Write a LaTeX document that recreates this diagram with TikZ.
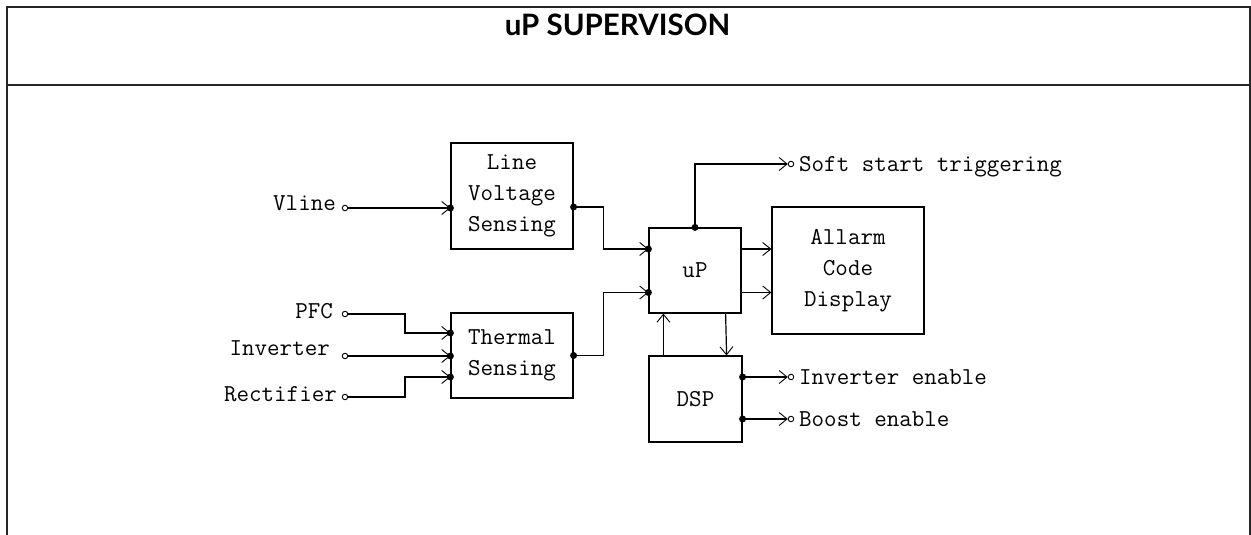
\documentclass[tikz,border=0pt]{standalone}
\usepackage{fontspec}
\newfontfamily\headfont{Lato}
\usetikzlibrary{arrows.meta,calc}

\begin{document}
\begin{tikzpicture}[
  x=1pt, y=-1pt,
  frame/.style={line width=2pt, draw=black!85},
  box/.style={draw, line width=1.2pt, align=center, inner sep=0pt, font=\ttfamily\fontsize{24.3}{31}\selectfont},
  term/.style={draw, circle, line width=0.9pt, inner sep=0pt, minimum size=5.5pt},
  inlabel/.style={anchor=base east, inner sep=0pt, font=\ttfamily\fontsize{24.3}{31}\selectfont},
  outlabel/.style={anchor=base west, inner sep=0pt, font=\ttfamily\fontsize{24.3}{31}\selectfont},
  arrow/.style={-{Straight Barb[length=8pt,width=13pt,line width=0.9pt]}, line width=1.2pt}
]
\useasboundingbox (0,0) rectangle (1251,535);
\draw[frame] (7,535) -- (7,7) -- (1250,7) -- (1250,535);
\draw[frame] (7,85) -- (1250,85);
\node[anchor=base, inner sep=0pt, font=\headfont\bfseries\fontsize{29.5}{32}\selectfont] (title) at (617.5,35.7) {uP SUPERVISON};

\node[box, minimum width=122pt, minimum height=106pt] (lvs) at (512,196) {Line\\Voltage\\Sensing};
\node[box, minimum width=122pt, minimum height=85pt] (ths) at (512,355.5) {Thermal\\Sensing};
\node[box, minimum width=92pt, minimum height=85pt] (up) at (695,270.5) {uP};
\node[box, minimum width=152pt, minimum height=127pt] (alm) at (848,270.5) {Allarm\\Code\\Display};
\node[box, minimum width=93pt, minimum height=86pt] (dsp) at (695.5,399) {DSP};

\node[term] (vline) at (345,208) {};
\node[term] (pfc) at (345,314) {};
\node[term] (inv) at (345,356) {};
\node[term] (rect) at (345,397) {};
\node[term] (soft) at (791,164) {};
\node[term] (inven) at (791,377) {};
\node[term] (boost) at (791,419) {};

\node[inlabel] (vline-txt) at ($(vline)+(-9,2)$) {Vline};
\node[inlabel] (pfc-txt) at ($(pfc)+(-12,4)$) {PFC};
\node[inlabel] (inv-txt) at ($(inv)+(-15,-1)$) {Inverter};
\node[inlabel] (rect-txt) at ($(rect)+(-8,4)$) {Rectifier};
\node[outlabel] (soft-txt) at ($(soft)+(8,7.5)$) {Soft start triggering};
\node[outlabel] (inven-txt) at ($(inven)+(8,7.5)$) {Inverter enable};
\node[outlabel] (boost-txt) at ($(boost)+(8,7.5)$) {Boost enable};

\coordinate (lvs-in) at (vline -| lvs.west);
\coordinate (lvs-out) at ($(lvs.east)+(0,11)$);
\coordinate (ths-a) at ($(ths.west)+(0,-22.5)$);
\coordinate (ths-b) at (inv -| ths.west);
\coordinate (ths-c) at ($(ths.west)+(0,21.5)$);
\coordinate (ths-out) at (ths.east);
\coordinate (up-a) at ($(up.west)+(0,-21.5)$);
\coordinate (up-b) at ($(up.west)+(0,22)$);
\coordinate (up-top) at (up.north);
\coordinate (dsp-a) at (inven -| dsp.east);
\coordinate (dsp-b) at (boost -| dsp.east);

\draw[arrow] (vline) -- (lvs-in);
\draw[arrow] (lvs-out) -- ++(30,0) |- (up-a);
\draw[arrow] (pfc) -- ++(60,0) |- (ths-a);
\draw[arrow] (inv) -- (ths-b);
\draw[arrow] (rect) -- ++(60,0) |- (ths-c);
\draw[arrow] (ths-out) -- ++(30,0) |- (up-b);
\draw[arrow] (up-top) |- (soft);
\draw[arrow] (up-a -| up.east) -- (up-a -| alm.west);
\draw[arrow] (up-b -| up.east) -- (up-b -| alm.west);
\draw[arrow] ([xshift=15pt]dsp.north west) -- ([xshift=15pt]up.south west);
\draw[arrow] ([xshift=-16pt]up.south east) -- ([xshift=-16pt]dsp.north east);
\draw[arrow] (dsp-a) -- (inven);
\draw[arrow] (dsp-b) -- (boost);
\foreach \p in {lvs-in,lvs-out,ths-a,ths-b,ths-c,ths-out,up-a,up-b,up-top,dsp-a,dsp-b}
  \fill (\p) circle (3.5pt);
\end{tikzpicture}
\end{document}
